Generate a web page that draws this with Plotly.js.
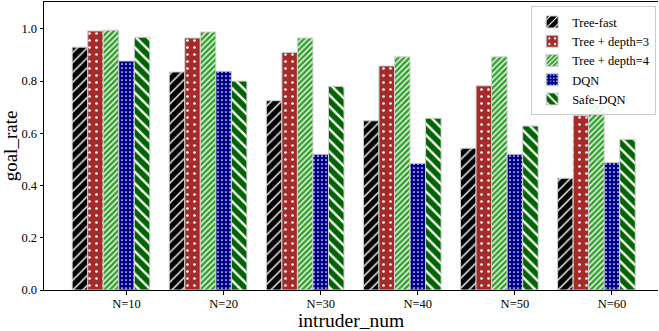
<!DOCTYPE html>
<html><head><meta charset="utf-8">
<script src="https://cdn.plot.ly/plotly-3.0.1.min.js"></script>
<style>html,body{margin:0;padding:0;overflow:hidden;background:#fff}</style>
</head><body><div id="chart" style="width:659px;height:331px"></div>
<script>
const categories = ["N=10", "N=20", "N=30", "N=40", "N=50", "N=60"];
const treeFast = [0.93, 0.835, 0.725, 0.648, 0.543, 0.428];
const treeDepth3 = [0.992, 0.965, 0.91, 0.858, 0.782, 0.668];
const treeDepth4 = [0.995, 0.988, 0.965, 0.893, 0.893, 0.715];
const dqn = [0.877, 0.838, 0.52, 0.485, 0.52, 0.488];
const safeDqn = [0.968, 0.80, 0.78, 0.658, 0.628, 0.577];
const seriesNames = ["Tree-fast", "Tree + depth=3", "Tree + depth=4", "DQN", "Safe-DQN"];

const idx = categories.map((c, i) => i);
const styles = [
  {bg: "#000000", shape: "/", size: 7, sol: 0.2},
  {bg: "#a52a2a", shape: ".", size: 7, sol: 0.12},
  {bg: "#33a02c", shape: "/", size: 4, sol: 0.35},
  {bg: "#00008b", shape: ".", size: 4, sol: 0.15},
  {bg: "#006400", shape: "\\", size: 8, sol: 0.3}
];
const allData = [treeFast, treeDepth3, treeDepth4, dqn, safeDqn];
const traces = allData.map((vals, k) => ({
  type: "bar", name: seriesNames[k], x: idx, y: vals,
  marker: {
    color: styles[k].bg,
    line: {color: "#d0d0d0", width: 1},
    pattern: {shape: styles[k].shape, fgcolor: "#ffffff", bgcolor: styles[k].bg,
              size: styles[k].size, solidity: styles[k].sol, fillmode: "replace"}
  },
  hoverinfo: "skip"
}));

const layout = {
  width: 659, height: 331,
  margin: {l: 44, r: 1, t: 2, b: 41},
  paper_bgcolor: "#fff", plot_bgcolor: "#fff",
  barmode: "group", bargap: 0.2, bargroupgap: 0,
  font: {family: "Liberation Serif, Times New Roman, serif", color: "#000"},
  showlegend: true,
  legend: {x: 0.997, xanchor: "right", y: 0.985, yanchor: "top",
           bgcolor: "rgba(255,255,255,0.9)", bordercolor: "#cccccc", borderwidth: 1,
           font: {size: 12.5, family: "Liberation Serif, serif"}, tracegroupgap: 0, itemwidth: 30},
  xaxis: {
    range: [-0.69, 5.634], tickmode: "array", tickvals: idx.map(i => i + 0.16), ticktext: categories,
    showline: true, linecolor: "#000", linewidth: 1, mirror: true,
    ticks: "outside", ticklen: 3.5, tickcolor: "#000", showgrid: false, zeroline: false,
    tickfont: {size: 12.5}, ticklabelstandoff: -2,
    title: {text: "intruder_num", font: {size: 19.5}, standoff: 1}
  },
  yaxis: {
    range: [0, 1.103], tickvals: [0, 0.2, 0.4, 0.6, 0.8, 1.0], tickformat: ".1f",
    showline: true, linecolor: "#000", linewidth: 1, mirror: false,
    ticks: "outside", ticklen: 3.5, tickcolor: "#000", showgrid: false, zeroline: false,
    tickfont: {size: 12.5},
    title: {text: "goal_rate", font: {size: 19}, standoff: 4}
  }
};
Plotly.newPlot("chart", traces, layout, {staticPlot: true, displayModeBar: false});
</script></body></html>
